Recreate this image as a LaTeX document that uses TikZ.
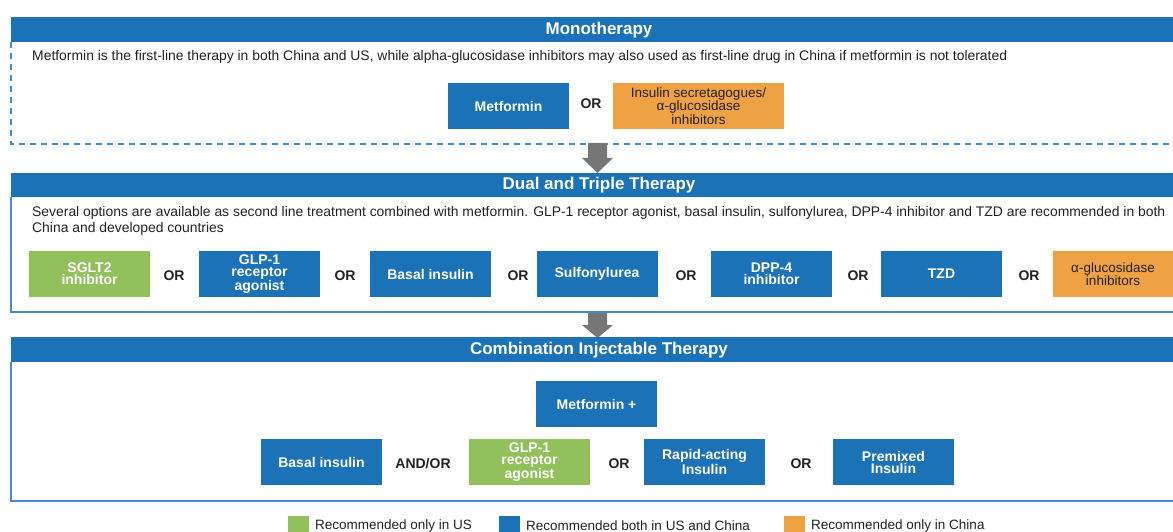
\documentclass[tikz,border=0pt]{standalone}
\usepackage{fontspec}
\setmainfont{Liberation Sans}
\definecolor{hblue}{HTML}{1C72B6}
\definecolor{lgreen}{HTML}{92C05B}
\definecolor{lorange}{HTML}{EEA244}
\definecolor{agray}{HTML}{767676}
\definecolor{dblue}{HTML}{3D8FD6}
\definecolor{frameblue}{HTML}{4A8AC8}
\definecolor{txt}{HTML}{222222}
\begin{document}
\begin{tikzpicture}[x=1pt,y=-1pt,
  hdrband/.style={fill=hblue,draw=none},
  hdrtxt/.style={text=white,inner sep=0pt,font=\fontsize{17}{17}\selectfont\bfseries},
  drug/.style={rectangle,minimum width=121pt,minimum height=46pt,inner sep=0pt,
    text=white,font=\fontsize{14}{12}\selectfont\bfseries,align=center,fill=hblue},
  usdrug/.style={drug,fill=lgreen},
  cndrug/.style={drug,fill=lorange,text=txt,font=\fontsize{13.5}{12}\selectfont},
  orlab/.style={text=txt,inner sep=0pt,font=\fontsize{14}{14}\selectfont\bfseries},
  bodytxt/.style={text=txt,inner sep=0pt,anchor=west,font=\fontsize{13.9}{16}\selectfont},
  frame/.style={draw=frameblue,line width=1.2pt},
  dashframe/.style={draw=dblue,line width=1.5pt,dash pattern=on 6pt off 5pt},
  blockarrow/.style={fill=agray,draw=none},
  legsq/.style={rectangle,minimum size=21pt,inner sep=0pt,anchor=north west},
  legtxt/.style={text=txt,inner sep=0pt,anchor=west,font=\fontsize{13.5}{14}\selectfont}
]
\useasboundingbox (0,0) rectangle (1173,532);
\clip (0,0) rectangle (1173,532);

% ---------- Monotherapy ----------
\draw[dashframe] (11,42) -- (11,144) -- (1190,144);
\fill[hdrband] (11,17) rectangle (1190,42);
\node[hdrtxt] (monot) at (599,30) {Monotherapy};
\node[bodytxt] (monotext) at (32,57) {Metformin is the first-line therapy in both China and US, while alpha-glucosidase inhibitors may also used as first-line drug in China if metformin is not tolerated};
\node[drug] (met1) at (508.5,106) {Metformin};
\node[orlab] (or0) at (591,104) {OR};
\node[cndrug,minimum width=171pt] (isec) at (698.5,106) {Insulin secretagogues/\\α-glucosidase\\inhibitors};

% arrow 1
\fill[blockarrow] (588,143) -- (607,143) -- (607,158) -- (613,158) -- (597.5,173) -- (582,158) -- (588,158) -- cycle;

% ---------- Dual and Triple ----------
\draw[frame] (11,197) -- (11,312) -- (1190,312);
\fill[hdrband] (11,173) rectangle (1190,197);
\node[hdrtxt] (dualt) at (599,185) {Dual and Triple Therapy};
\node[bodytxt] (dualtext1) at (32,213) {Several options are available as second line treatment combined with metformin. GLP-1 receptor agonist, basal insulin, sulfonylurea, DPP-4 inhibitor and TZD are recommended in both};
\node[bodytxt] (dualtext2) at (32,229) {China and developed countries};
\node[usdrug] (sglt) at (89.5,274) {SGLT2\\inhibitor};
\node[orlab] (or1) at (174,276) {OR};
\node[drug] (glp1) at (259.5,274) {GLP-1\\receptor\\agonist};
\node[orlab] (or2) at (345,276) {OR};
\node[drug] (basal1) at (430.5,274) {Basal insulin};
\node[orlab] (or3) at (518,276) {OR};
\node[drug] (sulf) at (597,274) {Sulfonylurea};
\node[orlab] (or4) at (686,276) {OR};
\node[drug] (dpp) at (771.5,274) {DPP-4\\inhibitor};
\node[orlab] (or5) at (858,276) {OR};
\node[drug] (tzd) at (941.5,274) {TZD};
\node[orlab] (or6) at (1029,276) {OR};
\node[cndrug] (agluc) at (1113,274) {α-glucosidase\\inhibitors};

% arrow 2
\fill[blockarrow] (588,313) -- (607,313) -- (607,325) -- (613,325) -- (597.5,338) -- (582,325) -- (588,325) -- cycle;

% ---------- Combination Injectable ----------
\draw[frame] (11,362) -- (11,501) -- (1190,501);
\fill[hdrband] (11,337) rectangle (1190,362);
\node[hdrtxt] (combt) at (599,350) {Combination Injectable Therapy};
\node[drug] (met2) at (596.5,404) {Metformin +};
\node[drug] (basal2) at (321.5,462) {Basal insulin};
\node[orlab] (andor) at (423,464) {AND/OR};
\node[usdrug] (glp2) at (529.5,462) {GLP-1\\receptor\\agonist};
\node[orlab] (or7) at (619,464) {OR};
\node[drug] (rapid) at (704.5,462) {Rapid-acting\\Insulin};
\node[orlab] (or8) at (801,464) {OR};
\node[drug] (premix) at (893.5,462) {Premixed\\Insulin};

% ---------- Legend ----------
\node[legsq,fill=lgreen] (lg1) at (288,516) {};
\node[legtxt] (lt1) at (315,526) {Recommended only in US};
\node[legsq,fill=hblue] (lg2) at (499,516) {};
\node[legtxt] (lt2) at (526,526) {Recommended both in US and China};
\node[legsq,fill=lorange] (lg3) at (784,516) {};
\node[legtxt] (lt3) at (811,526) {Recommended only in China};
\end{tikzpicture}
\end{document}
